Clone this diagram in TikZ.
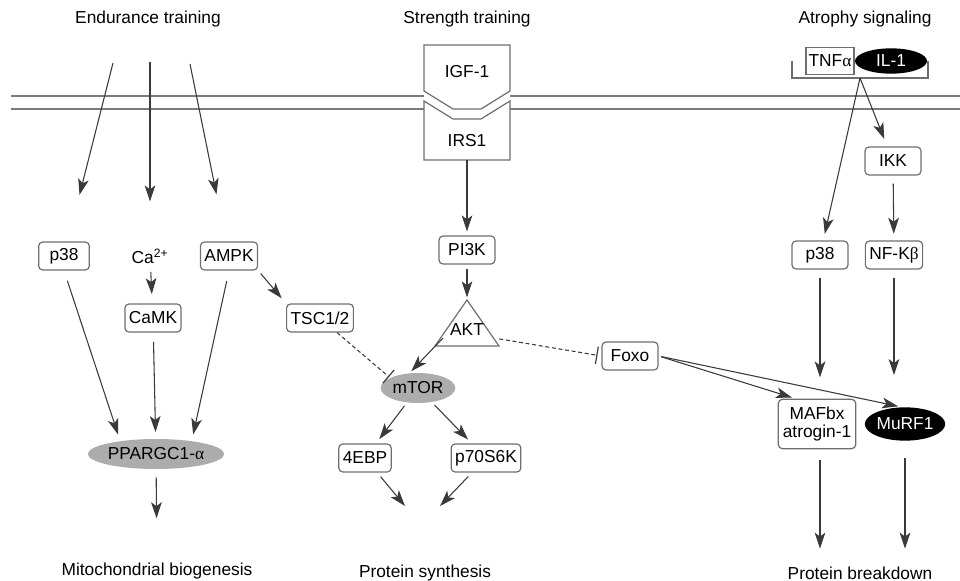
\documentclass[tikz,border=0pt]{standalone}
\usepackage{fontspec}
\setmainfont{Liberation Sans}
\newfontfamily\grk{Liberation Serif}
\usetikzlibrary{arrows.meta,shapes.geometric}
\definecolor{linec}{HTML}{3A3A3A}
\definecolor{boxc}{HTML}{6E6E6E}
\definecolor{memc}{HTML}{7A7A7A}
\definecolor{ellc}{HTML}{ACACAC}

\begin{document}
\begin{tikzpicture}[x=0.75pt, y=-0.75pt,
    every node/.style={font=\fontsize{13}{16}\selectfont},
    box/.style={draw=boxc, line width=0.9pt, rounded corners=3pt, minimum height=21pt, minimum width=42pt, inner xsep=3pt},
    gell/.style={ellipse, fill=ellc, inner sep=0pt},
    bell/.style={ellipse, fill=black, text=white, inner sep=0pt},
    arr/.style={draw=linec, line width=0.8pt, -{Stealth[length=12pt,width=8pt,inset=3pt]}},
    inh/.style={draw=linec, line width=0.8pt, dash pattern=on 3pt off 2pt, -{Bar[width=13pt,line width=0.9pt]}},
    mem/.style={draw=memc, line width=1.5pt},
    recp/.style={draw=boxc, fill=white, line width=0.9pt}]
    \useasboundingbox (0,0) rectangle (960,581);

    % titles
    \node (endu) at (148,19) {Endurance training};
    \node (stre) at (467,19) {Strength training};
    \node (atro) at (865,19) {Atrophy signaling};

    % membrane and receptor
    \draw[mem] (11,96) -- (424,96) (11,109) -- (424,109);
    \draw[mem] (510,96) -- (960,96) (510,109) -- (960,109);
    \draw[recp] (424,45) -- (510,45) -- (510,91) -- (481,109) -- (453,109) -- (424,91) -- cycle;
    \draw[recp] (424,101) -- (453,119) -- (481,119) -- (510,101) -- (510,160) -- (424,160) -- cycle;
    \node (igf) at (467,72) {IGF-1};
    \node (irs) at (467,141) {IRS1};

    % endurance side
    \coordinate (e1) at (113,63); \coordinate (e2) at (150,62); \coordinate (e3) at (190,64);
    \node[box, minimum width=38pt] (p38a) at (64,256) {p38};
    \node (ca) at (150,256) {Ca\textsuperscript{2+}};
    \node[box] (ampk) at (229,256) {AMPK};
    \node[box] (camk) at (153,318) {CaMK};
    \node[box, minimum width=0pt] (tsc) at (320,318) {TSC1/2};
    \node[gell, minimum width=92pt, minimum height=22.5pt] (ppar) at (156,454) {PPARGC1-{\grk α}};
    \node (mito) at (157,571) {Mitochondrial biogenesis};

    \draw[arr, shorten >=36pt] (e1) -- (p38a);
    \draw[arr, shorten >=32pt] (e2) -- (ca);
    \draw[arr, shorten >=36pt] (e3) -- (ampk);
    \draw[arr, shorten <=3pt, shorten >=7pt] (ca) -- (camk);
    \draw[arr, shorten <=8pt, shorten >=5pt] (p38a.south) -- (ppar.160);
    \draw[arr, shorten <=7pt, shorten >=5pt] (camk) -- (ppar);
    \draw[arr, shorten <=8pt, shorten >=5pt] (ampk.south) -- (ppar.20);
    \draw[arr, shorten <=3pt, shorten >=5pt] (ampk.south east) -- (tsc.north west);
    \draw[arr, shorten <=6pt, shorten >=30pt] (ppar) -- (mito);

    % strength side
    \node[box] (pi3k) at (467,250) {PI3K};
    \draw[recp] (467,300) coordinate (akt-t) -- (499,346) -- (435,346) -- cycle;
    \node (akt) at (467,330) {AKT};
    \coordinate (akt-w) at (443,338); \coordinate (akt-e) at (494,338);
    \node[gell, minimum width=56pt, minimum height=22.5pt] (mtor) at (418,388) {mTOR};
    \node[box, minimum width=0pt] (ebp) at (365,458) {4EBP};
    \node[box, minimum width=0pt] (p70) at (486,458) {p70S6K};
    \node (psyn) at (425,573) {Protein synthesis};
    \coordinate (ps1) at (405,506); \coordinate (ps2) at (440,506);
    \node[box] (foxo) at (630,356) {Foxo};

    \draw[arr, shorten <=6pt, shorten >=3pt] (irs) -- (pi3k);
    \draw[arr, shorten <=3pt, shorten >=2pt] (pi3k) -- (akt-t);
    \draw[arr, shorten >=2pt] (akt-w) -- (mtor.120);
    \draw[inh, shorten >=1pt] (tsc) -- (mtor.160);
    \draw[inh, shorten <=4pt, shorten >=3pt] (akt-e) -- (foxo.west);
    \draw[arr, shorten <=3pt, shorten >=4pt] (mtor) -- (ebp);
    \draw[arr, shorten <=3pt, shorten >=4pt] (mtor) -- (p70);
    \draw[arr, shorten <=4pt] (ebp) -- (ps1);
    \draw[arr, shorten <=4pt] (p70) -- (ps2);

    % atrophy side
    \node[draw=boxc, line width=0.9pt, minimum height=20pt, inner xsep=2pt] (tnf) at (830,61) {TNF{\grk α}};
    \node[bell, minimum width=54pt, minimum height=19pt] (il1) at (891,61) {IL-1};
    \draw[draw=boxc, line width=0.9pt] (792,61) -- (792,78) -- (928,78) -- (928,61);
    \coordinate (brk) at (860,78);
    \node[box] (p38b) at (820,255) {p38};
    \node[box] (ikk) at (893,161) {IKK};
    \node[box] (nfkb) at (894,255) {NF-K{\grk β}};
    \node[box, minimum width=58pt, minimum height=37pt, align=center, inner ysep=1pt] (mafbx) at (817,424)
        {MAFbx\\[-2pt]atrogin-1};
    \node[bell, minimum width=60pt, minimum height=25pt] (murf) at (905,424) {MuRF1};
    \node (pbrk) at (860,573) {Protein breakdown};

    \draw[arr, shorten >=5pt] (brk) -- (p38b);
    \draw[arr, shorten >=6pt] (brk) -- (ikk);
    \draw[arr, shorten <=6pt, shorten >=5pt] (ikk) -- (nfkb);
    \draw[arr, shorten <=6pt, shorten >=16pt] (p38b.south) -- (p38b.south |- mafbx.north);
    \draw[arr, shorten <=6pt, shorten >=24pt] (nfkb.south) -- (nfkb.south |- murf.north);
    \draw[arr, shorten <=2pt, shorten >=3pt] (foxo.east) -- (mafbx.130);
    \draw[arr, shorten <=2pt, shorten >=3pt] (foxo.east) -- (murf.100);
    \draw[arr, shorten <=8pt, shorten >=10pt] (p38b |- mafbx.south) -- (p38b |- pbrk.north);
    \draw[arr, shorten <=13pt, shorten >=10pt] (murf.south) -- (murf.south |- pbrk.north);
\end{tikzpicture}
\end{document}
